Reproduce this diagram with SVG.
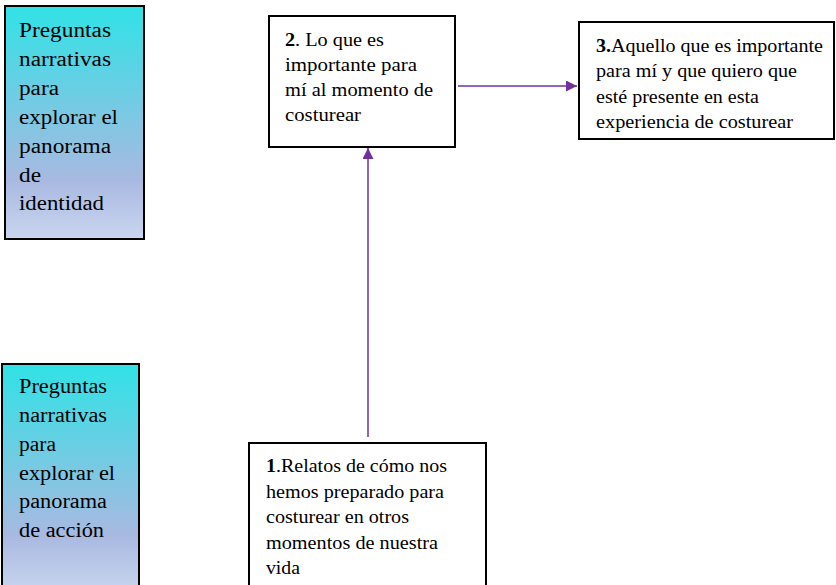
<svg xmlns="http://www.w3.org/2000/svg" width="836" height="585" viewBox="0 0 836 585">
<style>
.box{fill:#fff;stroke:#000;stroke-width:2}
.gbox{fill:url(#g);stroke:#000;stroke-width:2}
.t{font-family:"Liberation Serif","Times New Roman",serif;fill:#000}
.lg{font-size:20px}
.md{font-size:18px}
.conn{stroke:#7030a0;stroke-width:1.5;fill:none}
</style>
<defs>
<linearGradient id="g" x1="0" y1="0" x2="0" y2="1">
<stop offset="0" stop-color="#30e2e6"/>
<stop offset="0.75" stop-color="#a9b9e1"/>
<stop offset="1" stop-color="#cad6ef"/>
</linearGradient>
<marker id="ah" viewBox="0 0 10 10" refX="10" refY="5" markerWidth="11" markerHeight="11" markerUnits="userSpaceOnUse" orient="auto">
<path d="M0,0 L10,5 L0,10 Z" fill="#7030a0"/>
</marker>
</defs>
<g id="connectors">
<line class="conn" x1="458" y1="86" x2="577" y2="86" marker-end="url(#ah)"/>
<line class="conn" x1="368" y1="437" x2="368" y2="148" marker-end="url(#ah)"/>
</g>
<g id="identidad">
<rect class="gbox" x="5" y="6" width="139" height="233"/>
<g class="t lg">
<text x="19" y="37" textLength="92" lengthAdjust="spacingAndGlyphs">Preguntas</text>
<text x="19" y="66" textLength="92" lengthAdjust="spacingAndGlyphs">narrativas</text>
<text x="19" y="95" textLength="40" lengthAdjust="spacingAndGlyphs">para</text>
<text x="19" y="124" textLength="99" lengthAdjust="spacingAndGlyphs">explorar el</text>
<text x="19" y="153" textLength="92" lengthAdjust="spacingAndGlyphs">panorama</text>
<text x="19" y="182" textLength="22" lengthAdjust="spacingAndGlyphs">de</text>
<text x="19" y="210" textLength="85" lengthAdjust="spacingAndGlyphs">identidad</text>
</g>
</g>
<g id="accion">
<rect class="gbox" x="2" y="364" width="137" height="230"/>
<g class="t lg">
<text x="19" y="393" textLength="88" lengthAdjust="spacingAndGlyphs">Preguntas</text>
<text x="19" y="422" textLength="88" lengthAdjust="spacingAndGlyphs">narrativas</text>
<text x="19" y="451" textLength="37" lengthAdjust="spacingAndGlyphs">para</text>
<text x="19" y="480" textLength="96" lengthAdjust="spacingAndGlyphs">explorar el</text>
<text x="19" y="508" textLength="88" lengthAdjust="spacingAndGlyphs">panorama</text>
<text x="19" y="537" textLength="85" lengthAdjust="spacingAndGlyphs">de acción</text>
</g>
</g>
<g id="n2">
<rect class="box" x="269" y="16" width="186" height="131"/>
<g class="t md">
<text x="285" y="46" textLength="99" lengthAdjust="spacingAndGlyphs"><tspan font-weight="bold">2</tspan>. Lo que es</text>
<text x="285" y="71" textLength="132" lengthAdjust="spacingAndGlyphs">importante para</text>
<text x="285" y="96" textLength="148" lengthAdjust="spacingAndGlyphs">mí al momento de</text>
<text x="285" y="121" textLength="76" lengthAdjust="spacingAndGlyphs">costurear</text>
</g>
</g>
<g id="n3">
<rect class="box" x="579" y="22" width="255" height="117"/>
<g class="t md">
<text x="596" y="52" textLength="227" lengthAdjust="spacingAndGlyphs"><tspan font-weight="bold">3.</tspan>Aquello que es importante</text>
<text x="596" y="77" textLength="201" lengthAdjust="spacingAndGlyphs">para mí y que quiero que</text>
<text x="596" y="103" textLength="163" lengthAdjust="spacingAndGlyphs">esté presente en esta</text>
<text x="596" y="128" textLength="197" lengthAdjust="spacingAndGlyphs">experiencia de costurear</text>
</g>
</g>
<g id="n1">
<rect class="box" x="249" y="443" width="237" height="150"/>
<g class="t md">
<text x="266" y="472" textLength="181" lengthAdjust="spacingAndGlyphs"><tspan font-weight="bold">1</tspan>.Relatos de cómo nos</text>
<text x="266" y="498" textLength="178" lengthAdjust="spacingAndGlyphs">hemos preparado para</text>
<text x="266" y="523" textLength="143" lengthAdjust="spacingAndGlyphs">costurear en otros</text>
<text x="266" y="549" textLength="172" lengthAdjust="spacingAndGlyphs">momentos de nuestra</text>
<text x="266" y="574" textLength="34" lengthAdjust="spacingAndGlyphs">vida</text>
</g>
</g>
</svg>
